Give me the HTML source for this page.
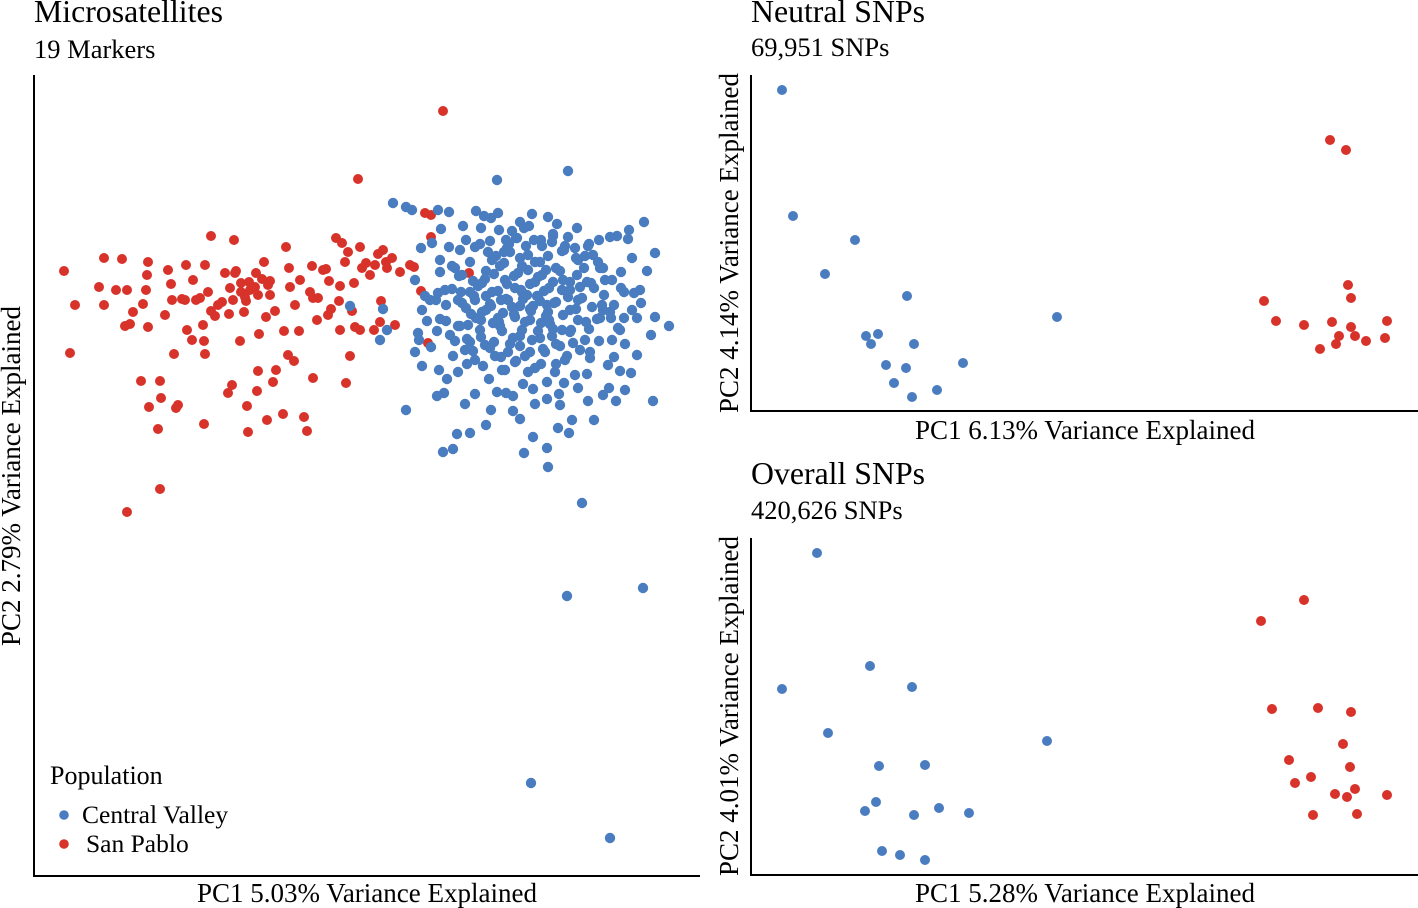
<!DOCTYPE html>
<html><head><meta charset="utf-8">
<style>
html,body{margin:0;padding:0;background:#fff;}
svg{display:block;font-family:"Liberation Serif",serif;}
</style></head>
<body>
<svg id="chart" width="1418" height="908" viewBox="0 0 1418 908" xmlns="http://www.w3.org/2000/svg">
  <g>
    <text x="34" y="22" font-size="31.8">Microsatellites</text>
    <text x="34" y="58" font-size="26.5">19 Markers</text>
    <line x1="34" y1="75" x2="34" y2="877" stroke="#000" stroke-width="2"/>
    <line x1="33" y1="876" x2="700" y2="876" stroke="#000" stroke-width="2"/>
    <text x="367" y="902" font-size="27" text-anchor="middle">PC1 5.03% Variance Explained</text>
    <text transform="translate(20,476) rotate(-90)" font-size="27" text-anchor="middle">PC2 2.79% Variance Explained</text>
    <g id="micro-points"></g>
    <g>
      <text x="50" y="784" font-size="26">Population</text>
      <circle cx="64" cy="815" r="4.8" fill="#4a7dbf"/>
      <text x="82" y="823" font-size="25.5">Central Valley</text>
      <circle cx="64" cy="844" r="4.8" fill="#d7332a"/>
      <text x="86" y="852" font-size="25.5">San Pablo</text>
    </g>
  </g>
  <g>
    <text x="751" y="22" font-size="31.8">Neutral SNPs</text>
    <text x="751" y="56" font-size="26.5">69,951 SNPs</text>
    <line x1="751" y1="75" x2="751" y2="412" stroke="#000" stroke-width="2"/>
    <line x1="750" y1="411" x2="1418" y2="411" stroke="#000" stroke-width="2"/>
    <text x="1085" y="439" font-size="27" text-anchor="middle">PC1 6.13% Variance Explained</text>
    <text transform="translate(738,243) rotate(-90)" font-size="27" text-anchor="middle">PC2 4.14% Variance Explained</text>
    <g id="neutral-points"></g>
  </g>
  <g>
    <text x="751" y="484" font-size="31.8">Overall SNPs</text>
    <text x="751" y="519" font-size="26.5">420,626 SNPs</text>
    <line x1="751" y1="538" x2="751" y2="876" stroke="#000" stroke-width="2"/>
    <line x1="750" y1="875" x2="1418" y2="875" stroke="#000" stroke-width="2"/>
    <text x="1085" y="902" font-size="27" text-anchor="middle">PC1 5.28% Variance Explained</text>
    <text transform="translate(738,706) rotate(-90)" font-size="27" text-anchor="middle">PC2 4.01% Variance Explained</text>
    <g id="overall-points"></g>
  </g>
</svg>
<script>
// Data in chart units (PC scores rescaled).
const microRedPC1=[64,75,70,104,122,99,104,127,133,130,148,147,146,143,148,168,171,186,185,193,200,205,211,234,236,241,246,255,262,270,275,286,289,290,295,299,312,323,318,329,331,336,348,352,355,358,360,362,375,383,387,392,354,381,395,374,350,346,313,313,304,307,283,273,276,258,257,247,248,267,232,228,240,259,288,294,174,192,204,205,178,176,161,160,141,149,158,204,160,127,443,425,431,431,410,414,421,428,469,222,215,229,244,266,284,187,203,125,317,328,339,233,211,182,116,340,360,380,264,256,249,241,235,225,270,400,366,378,342,326,250,258,268,245,230,218,208,196,172,165,300,310,340,345,370,386];
const microRedPC2=[271,305,353,258,259,287,305,290,312,324,262,275,290,304,327,270,284,265,300,280,298,265,236,240,271,283,301,287,279,295,311,247,268,287,305,331,266,270,298,281,309,238,252,311,327,179,247,268,265,250,268,258,283,301,325,330,356,383,298,378,417,431,414,382,370,371,391,406,432,420,385,393,341,334,355,361,354,340,341,354,405,408,398,381,381,407,429,424,489,512,111,213,215,237,265,267,291,343,273,302,316,314,312,317,331,330,325,326,320,315,301,300,311,299,290,330,330,322,262,273,282,292,273,273,281,272,263,254,243,269,290,295,285,297,288,305,292,300,300,315,280,292,286,262,275,262];
const microBluePC1=[568,497,393,406,412,438,449,582,567,643,531,610,406,669,653,655,647,628,599,610,568,548,532,520,498,484,476,463,441,432,440,452,466,481,490,506,512,526,553,562,578,593,603,621,632,634,621,604,592,582,578,589,599,612,624,637,655,611,608,620,631,609,603,587,575,567,556,573,562,548,540,530,518,504,496,486,473,459,452,446,440,437,431,418,415,422,439,447,453,455,467,473,483,489,497,491,486,470,453,443,457,444,465,475,506,513,520,524,533,547,548,558,569,572,560,547,535,588,594,616,625,637,614,590,585,571,553,541,530,522,513,502,493,481,471,462,475,486,498,508,520,531,544,553,560,570,580,587,568,556,527,515,505,494,482,470,461,510,520,535,546,522,538,548,534,499,460,449,421,415,425,438,427,446,458,481,494,508,520,532,543,556,541,528,516,502,523,513,533,547,564,578,559,458,467,437,501,491,503,515,533,549,563,576,597,603,524,491,475,488,507,557,542,589,605,614,641,625,651,640,476,468,486,499,525,538,552,501,512,523,537,547,380,387,350,383,419,
 455,462,470,478,485,492,500,507,514,521,528,535,542,549,556,563,570,577,584,591,598,458,466,474,482,490,498,506,514,522,530,538,546,554,562,570,578,586,594,602,610,618,450,460,470,480,490,500,510,520,530,540,550,560,570,580,590,600,465,475,485,495,505,515,525,535,545,555,565,575,585,480,492,504,516,528,540,552,564,576,588,600,612,624,440,430,422,445,436,620,632,644,617,629,509,517,529,541,553,565,577];
const microBluePC2=[171,180,203,207,210,210,212,503,596,588,783,838,410,326,401,253,271,239,240,237,237,217,214,222,213,216,211,226,229,243,260,266,240,228,241,240,231,246,236,251,260,255,268,272,258,293,288,295,307,298,320,329,341,340,318,318,317,318,365,371,373,388,395,374,375,356,364,343,330,312,301,284,273,263,256,271,281,276,289,305,319,331,347,333,352,366,370,379,356,341,339,351,366,379,392,410,425,433,449,452,434,393,404,394,393,411,419,453,437,448,467,428,433,420,405,399,404,401,420,401,390,355,357,352,340,330,329,323,320,330,338,331,323,320,314,303,300,296,291,300,306,311,291,282,271,282,287,282,297,302,295,288,280,274,283,292,292,252,258,262,270,266,277,256,240,230,250,247,248,280,296,293,321,321,326,337,342,352,346,340,349,344,364,372,361,370,384,396,389,382,383,388,394,372,364,396,357,306,313,317,306,320,315,309,319,310,228,218,247,252,248,224,246,244,280,305,303,344,335,290,318,325,310,322,322,331,336,300,307,299,296,305,340,330,306,309,340,
 268,275,262,286,279,292,266,284,276,290,270,282,275,288,268,280,290,275,268,283,262,300,308,296,312,304,318,299,314,292,309,296,316,303,290,310,300,322,288,305,312,328,335,326,342,330,348,326,344,336,352,338,324,346,332,350,358,318,350,360,345,356,370,362,356,368,352,372,360,248,256,244,260,252,238,255,262,242,250,258,246,268,280,292,272,300,310,290,300,330,310,222,236,230,244,238,226,240,234,246,228];
const neutralBluePC1=[782,793,855,825,907,866,878,871,914,886,906,963,894,937,912,1057];
const neutralBluePC2=[90,216,240,274,296,336,334,344,344,365,368,363,383,390,397,317];
const neutralRedPC1=[1330,1346,1348,1264,1351,1276,1304,1332,1351,1387,1339,1355,1385,1366,1336,1320];
const neutralRedPC2=[140,150,285,301,298,321,325,322,327,321,336,336,338,341,344,349];
const overallBluePC1=[817,870,782,912,828,1047,879,925,876,865,939,914,969,882,900,925];
const overallBluePC2=[553,666,689,687,733,741,766,765,802,811,808,815,813,851,855,860];
const overallRedPC1=[1304,1261,1272,1318,1351,1343,1289,1311,1350,1295,1335,1355,1347,1387,1313,1357];
const overallRedPC2=[600,621,709,708,712,744,760,777,767,783,794,789,797,795,815,814];

const BLUE="#4a7dbf", RED="#d7332a", NS="http://www.w3.org/2000/svg";
function makeScale(d0,d1,r0,r1){return v=>r0+(v-d0)*(r1-r0)/(d1-d0);}
const micro={x:makeScale(0,1000,0,1000),y:makeScale(0,1000,0,1000)};
const neutral={x:makeScale(0,1000,0,1000),y:makeScale(0,1000,0,1000)};
const overall={x:makeScale(0,1000,0,1000),y:makeScale(0,1000,0,1000)};
function draw(gid,sc,xs,ys,color,name,r){
  const g=document.getElementById(gid);
  const n=Math.min(xs.length,ys.length);
  for(let i=0;i<n;i++){
    const c=document.createElementNS(NS,"circle");
    c.setAttribute("cx",sc.x(xs[i]));
    c.setAttribute("cy",sc.y(ys[i]));
    c.setAttribute("r",r);
    c.setAttribute("fill",color);
    
    
    g.appendChild(c);
  }
}
draw("micro-points",micro,microRedPC1,microRedPC2,RED,"point-san-pablo",5);
draw("micro-points",micro,microBluePC1,microBluePC2,BLUE,"point-central-valley",5.2);
draw("neutral-points",neutral,neutralBluePC1,neutralBluePC2,BLUE,"point-central-valley",5);
draw("neutral-points",neutral,neutralRedPC1,neutralRedPC2,RED,"point-san-pablo",5);
draw("overall-points",overall,overallBluePC1,overallBluePC2,BLUE,"point-central-valley",5);
draw("overall-points",overall,overallRedPC1,overallRedPC2,RED,"point-san-pablo",5);
</script>
</body></html>
